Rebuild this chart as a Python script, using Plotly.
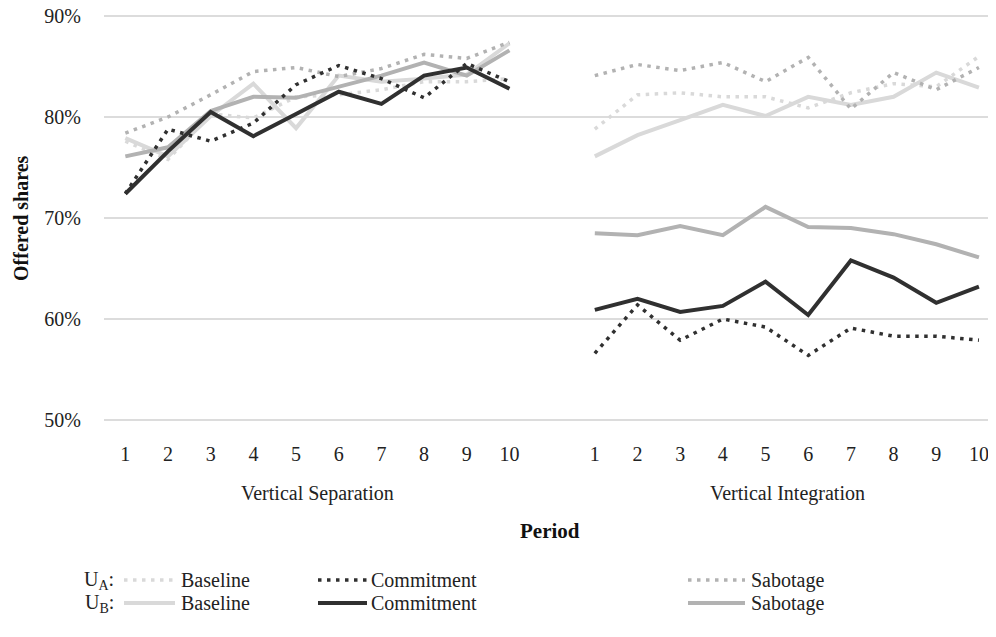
import plotly.graph_objects as go

periods = list(range(1, 11))
groups = ["Vertical Separation", "Vertical Integration"]

# Vertical Separation values (%)
sep_ua_baseline = [77.6, 75.8, 80.3, 79.9, 82.0, 82.2, 82.7, 83.5, 83.5, 83.8]
sep_ua_commit = [72.4, 78.8, 77.6, 79.4, 83.2, 85.1, 83.8, 81.9, 85.3, 83.5]
sep_ua_sabot = [78.4, 80.0, 82.2, 84.5, 84.9, 84.0, 84.8, 86.2, 85.8, 87.4]
sep_ub_baseline = [77.9, 76.1, 80.1, 83.3, 78.9, 84.1, 83.5, 83.8, 84.2, 87.3]
sep_ub_commit = [72.4, 76.6, 80.5, 78.1, 80.3, 82.5, 81.3, 84.1, 84.9, 82.8]
sep_ub_sabot = [76.1, 77.0, 80.6, 82.0, 81.9, 83.0, 84.1, 85.4, 84.1, 86.6]

# Vertical Integration values (%)
int_ua_baseline = [78.8, 82.2, 82.4, 82.0, 82.0, 80.9, 82.4, 83.3, 83.0, 86.0]
int_ua_commit = [56.6, 61.4, 57.9, 60.0, 59.2, 56.4, 59.1, 58.3, 58.3, 57.9]
int_ua_sabot = [84.1, 85.2, 84.6, 85.4, 83.5, 85.9, 80.8, 84.4, 82.7, 84.9]
int_ub_baseline = [76.1, 78.2, 79.7, 81.2, 80.1, 82.0, 81.2, 82.0, 84.4, 82.9]
int_ub_commit = [60.9, 62.0, 60.7, 61.3, 63.7, 60.4, 65.8, 64.1, 61.6, 63.2]
int_ub_sabot = [68.5, 68.3, 69.2, 68.3, 71.1, 69.1, 69.0, 68.4, 67.4, 66.1]

y_ticks = [50, 60, 70, 80, 90]
y_ticktext = ["50%", "60%", "70%", "80%", "90%"]

LIGHT = "#d9d9d9"
MID = "#b2b2b2"
DARK = "#303030"
FONT = "Liberation Serif"
FS = 20

# x positions: group 1 at 1..10, gap, group 2 at 12..21
x_all = periods + [11] + [p + 11 for p in periods]
tickvals = periods + [p + 11 for p in periods]
ticktext = [str(p) for p in periods] * 2


def join(a, b):
    return a + [None] + b


series = [
    ("UB Baseline", join(sep_ub_baseline, int_ub_baseline), LIGHT, "solid"),
    ("UA Baseline", join(sep_ua_baseline, int_ua_baseline), LIGHT, "dot"),
    ("UB Sabotage", join(sep_ub_sabot, int_ub_sabot), MID, "solid"),
    ("UA Sabotage", join(sep_ua_sabot, int_ua_sabot), MID, "dot"),
    ("UB Commitment", join(sep_ub_commit, int_ub_commit), DARK, "solid"),
    ("UA Commitment", join(sep_ua_commit, int_ua_commit), DARK, "dot"),
]

DOT = "3.5px,5.5px"

fig = go.Figure()
for name, ys, col, style in series:
    if style == "solid":
        line = dict(color=col, width=4)
    else:
        line = dict(color=col, width=3.5, dash=DOT)
    fig.add_trace(go.Scatter(x=x_all, y=ys, mode="lines", name=name, line=line,
                             connectgaps=False, showlegend=False, cliponaxis=False))

# page body has an 8px default margin: work in window pixels, shift by OFF
OFF = 8
W, H = 996 - OFF, 637 - OFF
# plot area slightly padded so the 50% and 90% gridlines stay inside the range
YMIN, YMAX = 49.9, 90.1
PXPER = 10.1  # pixels per percentage point
L, R = 104 - OFF, 996 - OFF
T = 16 - OFF - round(0.1 * PXPER)
B = 420 - OFF + round(0.1 * PXPER)


def px(x):
    return (x - OFF - L) / (R - L)


def py(y):
    return (B - (y - OFF)) / (B - T)


shapes = []
annotations = []


def text(x, y, s, size=FS, color="#222", xanchor="center", angle=0):
    annotations.append(dict(x=px(x), y=py(y), xref="paper", yref="paper", text=s,
                            showarrow=False, xanchor=xanchor, yanchor="middle",
                            textangle=angle,
                            font=dict(family=FONT, size=size, color=color)))


# group labels
text(317, 493, groups[0])
text(787, 493, groups[1])
text(550, 531, "<b>Period</b>", size=21, color="#111")
text(21, 218, "<b>Offered shares</b>", size=20, color="#111", angle=-90)

# legend (manual)
rows = [(580, "U<sub>A</sub>:", "dot"), (603, "U<sub>B</sub>:", "solid")]
cols = [(124, 175, 179, "Baseline", LIGHT), (318, 367, 369, "Commitment", DARK),
        (688, 745, 749, "Sabotage", MID)]
for ry, rlabel, style in rows:
    text(116, ry, rlabel, xanchor="right")
    for x0, x1, tx, txt, col in cols:
        if style == "dot":
            ln = dict(color=col, width=3.5, dash=DOT)
        else:
            ln = dict(color=col, width=4)
        shapes.append(dict(type="line", xref="paper", yref="paper", x0=px(x0), x1=px(x1),
                           y0=py(ry), y1=py(ry), line=ln))
        text(tx, ry, txt, xanchor="left")

fig.update_layout(
    width=W, height=H,
    margin=dict(l=L, r=W - R, t=T, b=H - B, autoexpand=False),
    plot_bgcolor="white", paper_bgcolor="white",
    shapes=shapes, annotations=annotations,
    xaxis=dict(range=[0.5, 21.4], tickvals=tickvals, ticktext=ticktext,
               showgrid=False, zeroline=False, showline=False, ticks="",
               automargin=False, ticklabelstandoff=19, ticklabeloverflow="allow",
               tickfont=dict(family=FONT, size=FS, color="#222")),
    yaxis=dict(range=[YMIN, YMAX], tickvals=y_ticks, ticktext=y_ticktext,
               showgrid=True, gridcolor="#dcdcdc", gridwidth=2, zeroline=False,
               showline=False, ticks="", ticklabelstandoff=22, automargin=False,
               ticklabeloverflow="allow",
               tickfont=dict(family=FONT, size=FS, color="#222")),
    showlegend=False,
)

fig.write_html("out.html")
